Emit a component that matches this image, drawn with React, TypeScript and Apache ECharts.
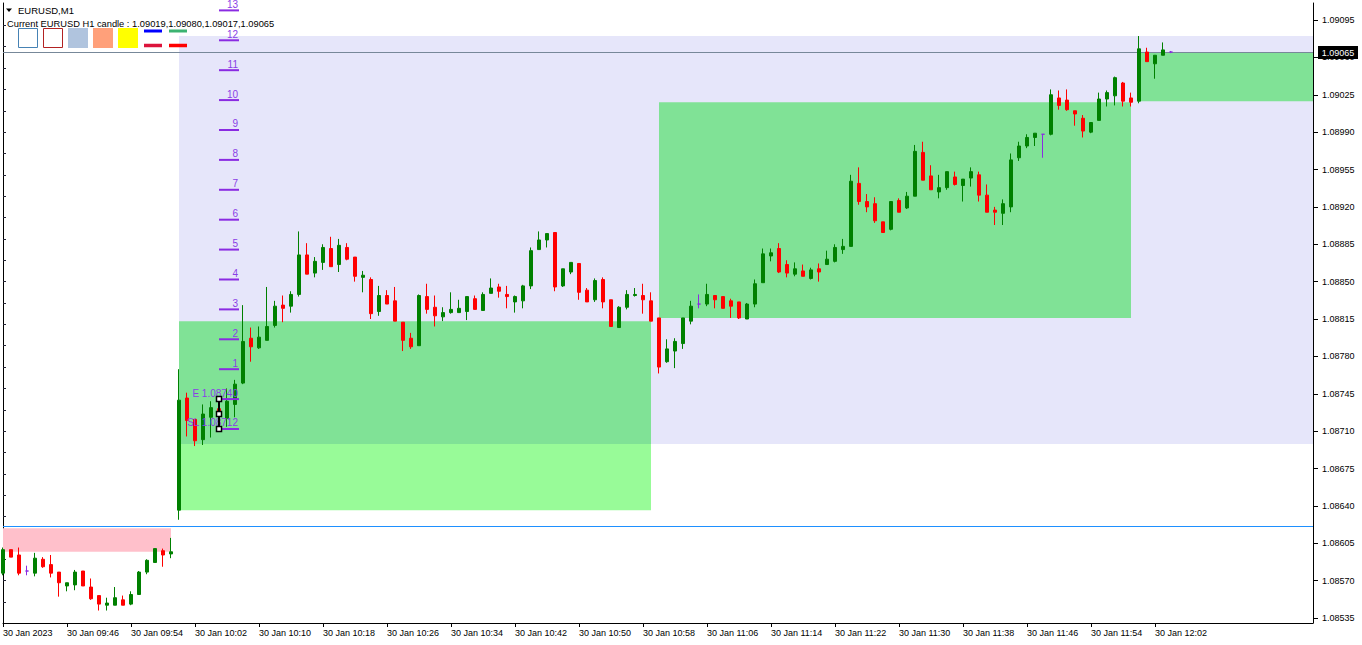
import React, { useEffect, useRef } from "react";
import * as echarts from "echarts";

// ---- M1 candles, bar 0 = 30 Jan 09:38 ----
const openPrices = [
  1.08577, 1.08599, 1.08594, 1.08579, 1.08577, 1.08590, 1.08585, 1.08578, 1.08565, 1.08566,
  1.08579, 1.08564, 1.08556, 1.08547, 1.08547, 1.08552, 1.08548, 1.08557, 1.08578, 1.08587,
  1.08598, 1.08595, 1.08636, 1.08741, 1.08721, 1.08702, 1.08723, 1.08731, 1.08722, 1.08735,
  1.08755, 1.08797, 1.08788, 1.08795, 1.08809, 1.08828, 1.08827, 1.08838, 1.08875, 1.08858,
  1.08868, 1.08881, 1.08866, 1.08882, 1.08873, 1.08854, 1.08852, 1.08822, 1.08837, 1.08832,
  1.08812, 1.08797, 1.08790, 1.08836, 1.08826, 1.08817, 1.08821, 1.08821, 1.08822, 1.08834,
  1.08823, 1.08839, 1.08845, 1.08838, 1.08831, 1.08832, 1.08846, 1.08880, 1.08889, 1.08896,
  1.08846, 1.08859, 1.08867, 1.08842, 1.08833, 1.08852, 1.08833, 1.08807, 1.08826, 1.08837,
  1.08837, 1.08832, 1.08816, 1.08775, 1.08785, 1.08792, 1.08813, 1.08829, 1.08829, 1.08837,
  1.08836, 1.08832, 1.08831, 1.08815, 1.08829, 1.08849, 1.08874, 1.08881, 1.08866, 1.08857,
  1.08860, 1.08853, 1.08862, 1.08866, 1.08869, 1.08880, 1.08883, 1.08942, 1.08925, 1.08923,
  1.08906, 1.08899, 1.08926, 1.08919, 1.08930, 1.08971, 1.08949, 1.08934, 1.08938, 1.08948,
  1.08940, 1.08947, 1.08950, 1.08931, 1.08917, 1.08914, 1.08920, 1.08966, 1.08977, 1.08985,
  1.08988, 1.08988, 1.09022, 1.09020, 1.09010, 1.09003, 1.08990, 1.09001, 1.09021, 1.09024,
  1.09036, 1.09022, 1.09019, 1.09065, 1.09054, 1.09062, 1.09065,
];
const closePrices = [
  1.08599, 1.08592, 1.08577, 1.08579, 1.08591, 1.08583, 1.08577, 1.08568, 1.08568, 1.08578,
  1.08565, 1.08553, 1.08548, 1.08549, 1.08554, 1.08547, 1.08557, 1.08578, 1.08589, 1.08600,
  1.08594, 1.08597, 1.08739, 1.08720, 1.08701, 1.08726, 1.08732, 1.08727, 1.08738, 1.08754,
  1.08794, 1.08789, 1.08798, 1.08808, 1.08827, 1.08825, 1.08838, 1.08875, 1.08857, 1.08869,
  1.08882, 1.08864, 1.08884, 1.08871, 1.08855, 1.08856, 1.08820, 1.08837, 1.08829, 1.08813,
  1.08795, 1.08789, 1.08837, 1.08824, 1.08818, 1.08821, 1.08824, 1.08825, 1.08836, 1.08824,
  1.08838, 1.08844, 1.08841, 1.08836, 1.08836, 1.08846, 1.08879, 1.08889, 1.08895, 1.08845,
  1.08862, 1.08868, 1.08840, 1.08831, 1.08851, 1.08831, 1.08808, 1.08826, 1.08838, 1.08838,
  1.08833, 1.08813, 1.08770, 1.08787, 1.08794, 1.08816, 1.08827, 1.08829, 1.08838, 1.08833,
  1.08825, 1.08827, 1.08816, 1.08829, 1.08848, 1.08876, 1.08877, 1.08859, 1.08858, 1.08862,
  1.08855, 1.08861, 1.08859, 1.08871, 1.08882, 1.08883, 1.08944, 1.08925, 1.08920, 1.08907,
  1.08896, 1.08925, 1.08915, 1.08930, 1.08972, 1.08945, 1.08936, 1.08938, 1.08953, 1.08941,
  1.08946, 1.08953, 1.08931, 1.08915, 1.08915, 1.08923, 1.08964, 1.08977, 1.08985, 1.08989,
  1.08988, 1.09025, 1.09015, 1.09011, 1.09007, 1.08991, 1.08999, 1.09021, 1.09027, 1.09041,
  1.09019, 1.09018, 1.09068, 1.09056, 1.09062, 1.09067, 1.09065,
];
const lowPrices = [
  1.08575, 1.08592, 1.08575, 1.08575, 1.08574, 1.08582, 1.08573, 1.08555, 1.08560, 1.08561,
  1.08565, 1.08552, 1.08542, 1.08542, 1.08547, 1.08547, 1.08547, 1.08557, 1.08576, 1.08587,
  1.08583, 1.08591, 1.08627, 1.08705, 1.08696, 1.08697, 1.08704, 1.08720, 1.08714, 1.08723,
  1.08754, 1.08775, 1.08787, 1.08795, 1.08807, 1.08812, 1.08821, 1.08836, 1.08857, 1.08854,
  1.08861, 1.08864, 1.08859, 1.08870, 1.08850, 1.08840, 1.08815, 1.08818, 1.08829, 1.08813,
  1.08785, 1.08787, 1.08790, 1.08820, 1.08808, 1.08813, 1.08820, 1.08821, 1.08814, 1.08824,
  1.08823, 1.08839, 1.08835, 1.08825, 1.08821, 1.08825, 1.08843, 1.08880, 1.08882, 1.08841,
  1.08845, 1.08857, 1.08833, 1.08831, 1.08831, 1.08825, 1.08808, 1.08807, 1.08824, 1.08836,
  1.08820, 1.08813, 1.08764, 1.08774, 1.08769, 1.08787, 1.08810, 1.08825, 1.08827, 1.08825,
  1.08825, 1.08816, 1.08815, 1.08815, 1.08826, 1.08849, 1.08869, 1.08858, 1.08854, 1.08855,
  1.08855, 1.08852, 1.08850, 1.08866, 1.08868, 1.08876, 1.08883, 1.08922, 1.08915, 1.08905,
  1.08896, 1.08898, 1.08915, 1.08918, 1.08930, 1.08945, 1.08936, 1.08928, 1.08936, 1.08940,
  1.08925, 1.08939, 1.08925, 1.08915, 1.08903, 1.08903, 1.08915, 1.08963, 1.08975, 1.08977,
  1.08966, 1.08987, 1.09011, 1.09010, 1.08996, 1.08985, 1.08989, 1.09001, 1.09014, 1.09015,
  1.09014, 1.09014, 1.09017, 1.09056, 1.09040, 1.09062, 1.09064,
];
const highPrices = [
  1.08601, 1.08599, 1.08601, 1.08584, 1.08596, 1.08592, 1.08594, 1.08578, 1.08568, 1.08580,
  1.08579, 1.08572, 1.08556, 1.08554, 1.08564, 1.08556, 1.08560, 1.08579, 1.08590, 1.08600,
  1.08600, 1.08610, 1.08768, 1.08746, 1.08721, 1.08735, 1.08738, 1.08735, 1.08750, 1.08758,
  1.08828, 1.08807, 1.08808, 1.08845, 1.08832, 1.08837, 1.08841, 1.08897, 1.08886, 1.08873,
  1.08885, 1.08892, 1.08890, 1.08886, 1.08873, 1.08860, 1.08854, 1.08846, 1.08842, 1.08845,
  1.08812, 1.08802, 1.08838, 1.08848, 1.08837, 1.08826, 1.08840, 1.08833, 1.08836, 1.08837,
  1.08840, 1.08853, 1.08848, 1.08846, 1.08837, 1.08847, 1.08882, 1.08897, 1.08895, 1.08896,
  1.08862, 1.08868, 1.08867, 1.08844, 1.08853, 1.08854, 1.08833, 1.08827, 1.08842, 1.08844,
  1.08848, 1.08840, 1.08816, 1.08796, 1.08797, 1.08816, 1.08832, 1.08838, 1.08848, 1.08837,
  1.08836, 1.08834, 1.08831, 1.08830, 1.08852, 1.08881, 1.08881, 1.08886, 1.08870, 1.08868,
  1.08866, 1.08863, 1.08867, 1.08879, 1.08885, 1.08890, 1.08950, 1.08957, 1.08932, 1.08929,
  1.08906, 1.08925, 1.08928, 1.08934, 1.08978, 1.08981, 1.08959, 1.08950, 1.08953, 1.08953,
  1.08946, 1.08957, 1.08953, 1.08941, 1.08920, 1.08927, 1.08970, 1.08981, 1.08988, 1.08989,
  1.08988, 1.09030, 1.09029, 1.09030, 1.09010, 1.09006, 1.08999, 1.09027, 1.09029, 1.09042,
  1.09037, 1.09027, 1.09080, 1.09069, 1.09062, 1.09074, 1.09066,
];

// ---- axis labels ----
const timeLabels = [
  "30 Jan 2023", "30 Jan 09:46", "30 Jan 09:54", "30 Jan 10:02", "30 Jan 10:10",
  "30 Jan 10:18", "30 Jan 10:26", "30 Jan 10:34", "30 Jan 10:42", "30 Jan 10:50",
  "30 Jan 10:58", "30 Jan 11:06", "30 Jan 11:14", "30 Jan 11:22", "30 Jan 11:30",
  "30 Jan 11:38", "30 Jan 11:46", "30 Jan 11:54", "30 Jan 12:02",
];
const barsPerLabel = 8;
const priceTicks = [
  1.08535, 1.0857, 1.08605, 1.0864, 1.08675, 1.0871, 1.08745, 1.0878, 1.08815,
  1.0885, 1.08885, 1.0892, 1.08955, 1.0899, 1.09025, 1.0906, 1.09095,
];
const leftTicks = [
  1.0855, 1.0857, 1.0859, 1.0861, 1.0863, 1.0865, 1.0867, 1.0869, 1.0871, 1.0873,
  1.0875, 1.0877, 1.0879, 1.0881, 1.0883, 1.0885, 1.0887, 1.0889, 1.0891, 1.0893,
  1.0895, 1.0897, 1.0899, 1.0901, 1.0903, 1.0905, 1.0907, 1.0909,
];

// ---- H1 candle bodies (start bar of the hour, open, close) ----
const h1StartBar = [-38, 22, 82, 142];
const h1Open = [1.08619, 1.08636, 1.08816, 1.09019];
const h1Close = [1.08597, 1.08813, 1.09018, 1.09065];
const h1Length = 59;

// ---- range zone ----
const rangeStartBar = 22;
const rangeTop = 1.0908;
const rangeBottom = 1.08698;

// ---- horizontal lines ----
const currentPrice = 1.09065;
const blueLevel = 1.08621;

// ---- trade tool ----
const tradeBar = 27;
const entryPrice = 1.0874;
const midPrice = 1.08726;
const stopPrice = 1.08712;
const levelNames = ["1", "2", "3", "4", "5", "6", "7", "8", "9", "10", "11", "12", "13"];
const levelPrices = [
  1.08768, 1.08796, 1.08824, 1.08852, 1.0888, 1.08908, 1.08936, 1.08964, 1.08992,
  1.0902, 1.09048, 1.09076, 1.09104,
];

const X_MAX = 163.75;
const Y_MIN = 1.0853032;
const Y_MAX = 1.0911092;
const FONT = "Liberation Sans, Arial, sans-serif";

export default function App() {
  const ref = useRef<HTMLDivElement>(null);

  useEffect(() => {
    if (!ref.current) return;
    const chart = echarts.init(ref.current, null, { renderer: "svg" });

    const candles = openPrices.map((o, i) => [i, o, closePrices[i], lowPrices[i], highPrices[i]]);

    type Piece = { x0: number; x1: number; top: number; bottom: number; color: string };
    const pieces: Piece[] = [];
    pieces.push({ x0: rangeStartBar, x1: rangeStartBar + 400, top: rangeTop, bottom: rangeBottom, color: "#E6E6FA" });
    h1StartBar.forEach((s, k) => {
      const o = h1Open[k];
      const c = h1Close[k];
      const bull = c >= o;
      const top = Math.max(o, c);
      const bot = Math.min(o, c);
      const x0 = s;
      const x1 = s + h1Length;
      const base = bull ? "#98FB98" : "#FFC0CB";
      const mixed = bull ? "#80E296" : "#E8B8CC";
      if (x1 < rangeStartBar) {
        pieces.push({ x0, x1, top, bottom: bot, color: base });
        return;
      }
      const oTop = Math.min(top, rangeTop);
      const oBot = Math.max(bot, rangeBottom);
      if (oTop > oBot) {
        pieces.push({ x0, x1, top: oTop, bottom: oBot, color: mixed });
        if (top > rangeTop) pieces.push({ x0, x1, top, bottom: rangeTop, color: base });
        if (bot < rangeBottom) pieces.push({ x0, x1, top: rangeBottom, bottom: bot, color: base });
      } else {
        pieces.push({ x0, x1, top, bottom: bot, color: base });
      }
    });

    const levelItems = levelNames.map((n, i) => ({ price: levelPrices[i], text: n }));
    levelItems.push({ price: entryPrice, text: "E " + entryPrice.toFixed(5) });
    levelItems.push({ price: stopPrice, text: "SL " + stopPrice.toFixed(5) });

    const hLines = [
      { price: blueLevel, color: "#1E90FF", label: false },
      { price: currentPrice, color: "#778899", label: true },
    ];

    const lastH1 = h1StartBar[h1StartBar.length - 1];
    const h1High = Math.max(...highPrices.slice(lastH1));
    const h1Low = Math.min(...lowPrices.slice(lastH1));
    const h1Text =
      "Current EURUSD H1 candle : " +
      [h1Open[3], h1High, h1Low, closePrices[closePrices.length - 1]].map((v) => v.toFixed(5)).join(",");

    const tickBars = timeLabels.map((_, k) => k * barsPerLabel);

    const option: any = {
      animation: false,
      textStyle: { fontFamily: FONT },
      grid: { left: 3, top: 3, right: 49, bottom: 22, containLabel: false, outerBoundsMode: "none" },
      xAxis: {
        type: "value",
        min: 0,
        max: X_MAX,
        axisLine: { show: true, onZero: false, lineStyle: { color: "#000", width: 1 } },
        axisTick: { show: true, length: 4, customValues: tickBars, lineStyle: { color: "#000" } },
        axisLabel: {
          customValues: tickBars,
          formatter: (v: number) => timeLabels[Math.round(v / barsPerLabel)] ?? "",
          align: "left",
          margin: 5,
          fontSize: 9,
          color: "#000",
          fontFamily: FONT,
        },
        splitLine: { show: false },
      },
      yAxis: [
        {
          type: "value",
          position: "right",
          min: Y_MIN,
          max: Y_MAX,
          axisLine: { show: true, onZero: false, lineStyle: { color: "#000", width: 1 } },
          axisTick: { show: true, length: 5, customValues: priceTicks, lineStyle: { color: "#000" } },
          axisLabel: {
            customValues: priceTicks,
            formatter: (v: number) => v.toFixed(5),
            margin: 9,
            fontSize: 9,
            color: "#000",
            fontFamily: FONT,
          },
          splitLine: { show: false },
        },
        {
          type: "value",
          position: "left",
          min: Y_MIN,
          max: Y_MAX,
          axisLine: { show: true, onZero: false, lineStyle: { color: "#000", width: 1 } },
          axisTick: { show: true, inside: true, length: 3, customValues: leftTicks, lineStyle: { color: "#223" } },
          axisLabel: { show: false },
          splitLine: { show: false },
        },
      ],
      graphic: [
        { type: "polygon", z: 100, shape: { points: [[6, 8.5], [12, 8.5], [9, 12]] }, style: { fill: "#000" } },
        { type: "text", z: 100, x: 18, y: 10.5, style: { text: "EURUSD,M1", fill: "#000", font: `9.5px ${FONT}`, verticalAlign: "middle" } },
        { type: "text", z: 100, x: 7, y: 23.5, style: { text: h1Text, fill: "#000", font: `9.3px ${FONT}`, verticalAlign: "middle" } },
        { type: "rect", z: 100, shape: { x: 18.5, y: 28.5, width: 19, height: 19 }, style: { fill: "#fff", stroke: "#4682B4", lineWidth: 1 } },
        { type: "rect", z: 100, shape: { x: 43.5, y: 28.5, width: 19, height: 19 }, style: { fill: "#fff", stroke: "#B22222", lineWidth: 1 } },
        { type: "rect", z: 100, shape: { x: 68, y: 28, width: 20, height: 20 }, style: { fill: "#B0C4DE" } },
        { type: "rect", z: 100, shape: { x: 93, y: 28, width: 20, height: 20 }, style: { fill: "#FFA07A" } },
        { type: "rect", z: 100, shape: { x: 118, y: 28, width: 20, height: 20 }, style: { fill: "#FFFF00" } },
        { type: "line", z: 100, shape: { x1: 144, y1: 31, x2: 162, y2: 31 }, style: { stroke: "#0000FF", lineWidth: 3 } },
        { type: "line", z: 100, shape: { x1: 144, y1: 45.5, x2: 162, y2: 45.5 }, style: { stroke: "#DC143C", lineWidth: 3.5 } },
        { type: "line", z: 100, shape: { x1: 169, y1: 31, x2: 187, y2: 31 }, style: { stroke: "#3CB371", lineWidth: 3 } },
        { type: "line", z: 100, shape: { x1: 169, y1: 45.5, x2: 187, y2: 45.5 }, style: { stroke: "#FF0000", lineWidth: 3.5 } },
      ],
      series: [
        {
          type: "custom",
          name: "zones",
          z: 1,
          clip: true,
          silent: true,
          data: pieces.map((p) => [p.x0, p.top, p.x1, p.bottom]),
          encode: { x: [0, 2], y: [1, 3] },
          renderItem: (params: any, api: any) => {
            const p = pieces[params.dataIndex];
            const a = api.coord([p.x0, p.top]);
            const b = api.coord([p.x1, p.bottom]);
            return {
              type: "rect",
              shape: { x: a[0], y: a[1], width: b[0] - a[0], height: b[1] - a[1] },
              style: { fill: p.color },
            };
          },
        },
        {
          type: "custom",
          name: "hlines",
          z: 2,
          clip: false,
          silent: true,
          data: hLines.map((h) => [0, h.price]),
          renderItem: (params: any, api: any) => {
            const h = hLines[params.dataIndex];
            const a = api.coord([0, h.price]);
            const b = api.coord([X_MAX, h.price]);
            const y = Math.round(a[1]) + 0.5;
            const children: any[] = [
              { type: "line", shape: { x1: a[0], y1: y, x2: b[0], y2: y }, style: { stroke: h.color, lineWidth: 1 } },
            ];
            if (h.label) {
              children.push({
                type: "rect",
                z2: 10,
                shape: { x: b[0] + 5, y: y - 6.5, width: 40, height: 13 },
                style: { fill: "#000" },
              });
              children.push({
                type: "text",
                z2: 11,
                style: {
                  text: h.price.toFixed(5),
                  x: b[0] + 25,
                  y: y,
                  align: "center",
                  verticalAlign: "middle",
                  fill: "#fff",
                  font: `9px ${FONT}`,
                },
              });
            }
            return { type: "group", children };
          },
        },
        {
          type: "candlestick",
          name: "EURUSD",
          z: 3,
          barWidth: 4,
          silent: true,
          data: candles,
          itemStyle: {
            color: "#008000",
            color0: "#FF0000",
            borderColor: "#008000",
            borderColor0: "#FF0000",
            borderColorDoji: "#8A2BE2",
            borderWidth: 1,
          },
        },
        {
          type: "custom",
          name: "levels",
          z: 5,
          clip: false,
          silent: true,
          data: levelItems.map((l) => [tradeBar, l.price]),
          renderItem: (params: any, api: any) => {
            const l = levelItems[params.dataIndex];
            const a = api.coord([tradeBar, l.price]);
            const b = api.coord([tradeBar + 2.5, l.price]);
            return {
              type: "group",
              children: [
                { type: "line", shape: { x1: a[0], y1: a[1], x2: b[0], y2: b[1] }, style: { stroke: "#8A2BE2", lineWidth: 2 } },
                {
                  type: "text",
                  style: {
                    text: l.text,
                    x: b[0] - 1,
                    y: a[1] - 1,
                    align: "right",
                    verticalAlign: "bottom",
                    fill: "#8A3EE6",
                    font: `10px ${FONT}`,
                  },
                },
              ],
            };
          },
        },
        {
          type: "line",
          name: "trade",
          z: 6,
          silent: true,
          data: [
            [tradeBar, entryPrice],
            [tradeBar, midPrice],
            [tradeBar, stopPrice],
          ],
          lineStyle: { color: "#000", width: 2 },
          symbol: "rect",
          symbolSize: 5,
          showSymbol: true,
          itemStyle: { color: "#fff", borderColor: "#000", borderWidth: 1.5 },
        },
      ],
    };

    chart.setOption(option);
    return () => chart.dispose();
  }, []);

  return (
    <div
      ref={ref}
      style={{ position: "absolute", left: 0, top: 0, width: 1362, height: 645, background: "#fff" }}
    />
  );
}
